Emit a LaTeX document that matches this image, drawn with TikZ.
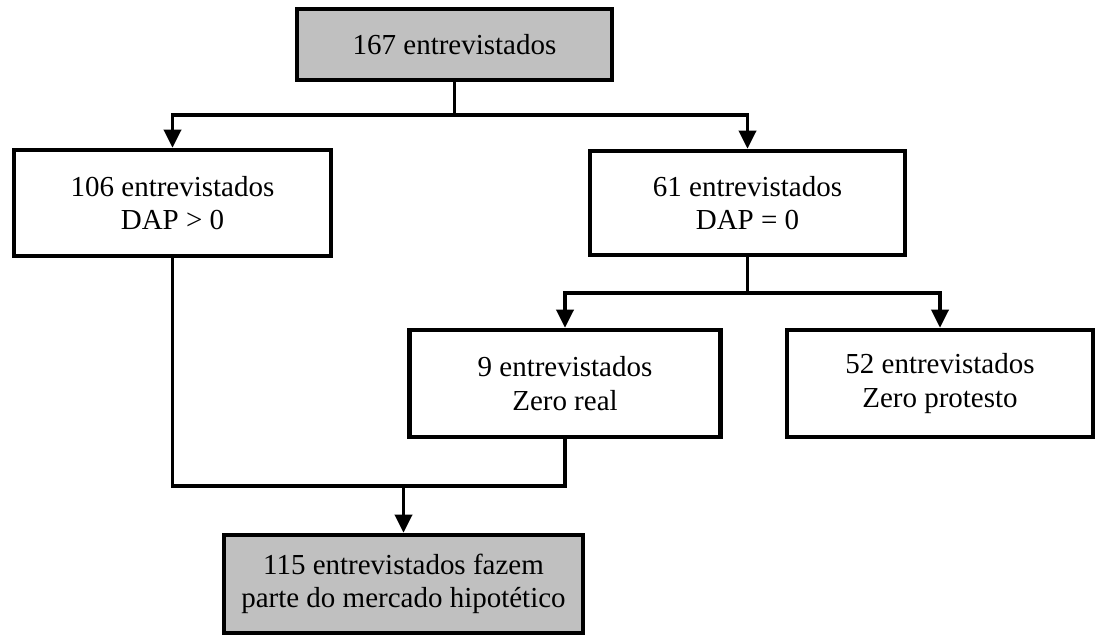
\documentclass[tikz,border=0pt]{standalone}
\usepackage{fontspec}
\setmainfont{Liberation Serif}
\usetikzlibrary{arrows.meta}

\definecolor{boxgray}{RGB}{192,192,192}

\tikzset{
	box/.style={draw=black, line width=2.6pt, rectangle, align=center, inner sep=0pt,
		font=\fontsize{16.5}{19}\selectfont},
	graybox/.style={box, fill=boxgray},
	link/.style={line width=2pt},
	arr/.style={link, -{Triangle[length=0.36cm,width=0.34cm]}}
}

\begin{document}
\begin{tikzpicture}[x=0.02cm,y=-0.02cm]
		\useasboundingbox (0,0) rectangle (1100,642);
		
		\node[graybox, minimum width=6.3cm, minimum height=1.42cm] (n167) at (454.5,44.5) {167 entrevistados};
		
		\node[box, minimum width=6.34cm, minimum height=2.12cm] (n106) at (172.5,203) {106 entrevistados\\DAP > 0};
		\node[box, minimum width=6.3cm, minimum height=2.08cm] (n61) at (747.5,203) {61 entrevistados\\DAP = 0};
		
		\node[box, minimum width=6.22cm, minimum height=2.14cm] (n9) at (565,383.5) {9 entrevistados\\Zero real};
		\node[box, minimum width=6.12cm, minimum height=2.14cm] (n52) at (940,383.5) {52 entrevistados\\Zero protesto};
		
		\node[graybox, minimum width=7.18cm, minimum height=1.96cm] (n115) at (403.5,584) {115 entrevistados fazem\\parte do mercado hipotético};
		
		% connectors
		\coordinate (split1) at (454.5,115);
		\coordinate (split2) at (747.5,293);
		\coordinate (join) at (403.5,486);
		
		\draw[link] (n167.south) -- (split1);
		\draw[arr] (split1) -| (n106.north);
		\draw[arr] (split1) -| (n61.north);
		
		\draw[link] (n61.south) -- (split2);
		\draw[arr] (split2) -| (n9.north);
		\draw[arr] (split2) -| (n52.north);
		
		\draw[link] (n106.south) |- (join) -| (n9.south);
		\draw[arr] (join) -- (n115.north);
	\end{tikzpicture}
\end{document}
